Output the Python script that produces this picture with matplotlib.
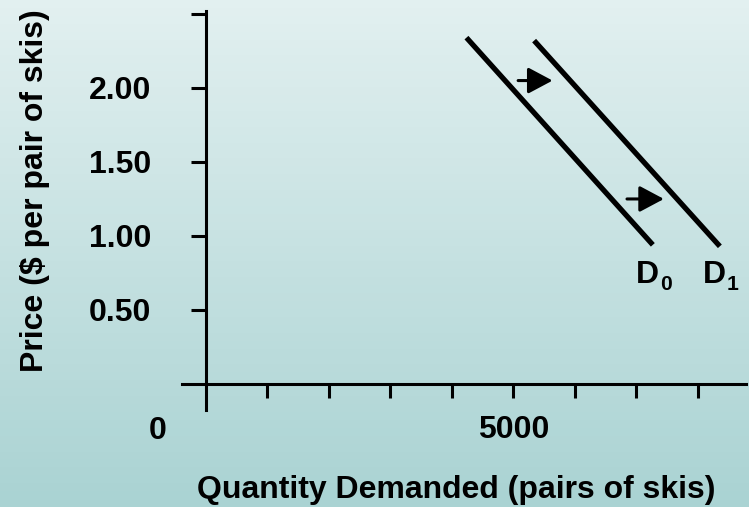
import numpy as np
import matplotlib
matplotlib.use("Agg")
from matplotlib import pyplot as plt
from matplotlib.colors import LinearSegmentedColormap

plt.rcParams['font.family'] = ['Liberation Sans', 'DejaVu Sans']
plt.rcParams['font.weight'] = 'bold'

# demand curves: quantity (pairs of skis) vs price ($ per pair)
d0_qty = [4240, 7270]
d0_price = [2.34, 0.94]
d1_qty = [5340, 8360]
d1_price = [2.32, 0.93]

# shift arrows (start qty, end qty, price)
shift_arrows = [(5080, 5640, 2.05), (6850, 7450, 1.25)]

price_ticks = [0.5, 1.0, 1.5, 2.0, 2.5]
price_labels = ["0.50", "1.00", "1.50", "2.00", ""]
qty_ticks = [1000, 2000, 3000, 4000, 5000, 6000, 7000, 8000]
qty_labels = ["", "", "", "", "5000", "", "", ""]

fs = 23

fig = plt.figure(figsize=(7.49, 5.07), dpi=100)

# background gradient
bg = fig.add_axes([0, 0, 1, 1], zorder=-1)
cmap = LinearSegmentedColormap.from_list("bg", ["#e2f0f0", "#aad3d3"])
bg.imshow(np.linspace(0, 1, 64).reshape(-1, 1), cmap=cmap, aspect='auto',
          extent=[0, 1, 0, 1])
bg.axis('off')

ax = fig.add_axes([0.243, 0.1913, 0.753, 0.787])
ax.set_facecolor('none')
ax.set_xlim(-385, 8785)
ax.set_ylim(-0.176, 2.52)

for s in ['top', 'right']:
    ax.spines[s].set_visible(False)
ax.spines['left'].set_position(('data', 0))
ax.spines['bottom'].set_position(('data', 0))
for s in ['left', 'bottom']:
    ax.spines[s].set_linewidth(2.2)

ax.set_yticks(price_ticks)
ax.set_yticklabels(price_labels)
ax.set_xticks(qty_ticks)
ax.set_xticklabels(qty_labels)
ax.tick_params(axis='y', direction='out', length=11, width=2.2, pad=28, labelsize=fs)
ax.tick_params(axis='x', direction='out', length=10, width=2.2, pad=12, labelsize=fs)

ax.plot(d0_qty, d0_price, color='black', lw=3.8, solid_capstyle='butt')
ax.plot(d1_qty, d1_price, color='black', lw=3.8, solid_capstyle='butt')

for q0, q1, p in shift_arrows:
    ax.annotate("", xy=(q1, p), xytext=(q0, p),
                arrowprops=dict(arrowstyle="-|>,head_length=1.5,head_width=0.8",
                                mutation_scale=10, lw=2.2, color='black',
                                shrinkA=0, shrinkB=0))

# curve names with subscripts
for q, sub in [(7000, "0"), (8080, "1")]:
    ax.text(q, 0.68, "D", fontsize=fs, ha='left', va='baseline')
    ax.annotate(sub, xy=(q, 0.68), xytext=(17, -5), textcoords='offset points',
                fontsize=fs * 0.66, ha='left', va='baseline')

ax.text(-780, -0.315, "0", fontsize=fs, ha='center', va='center', clip_on=False)

fig.text(35 / 749, 1 - 191 / 507, r"Price (\$ per pair of skis)", fontsize=fs,
         rotation=90, ha='center', va='center')
fig.text(456 / 749, 1 - 490 / 507, "Quantity Demanded (pairs of skis)",
         fontsize=fs, ha='center', va='center')

fig.savefig("out.png", dpi=100)
